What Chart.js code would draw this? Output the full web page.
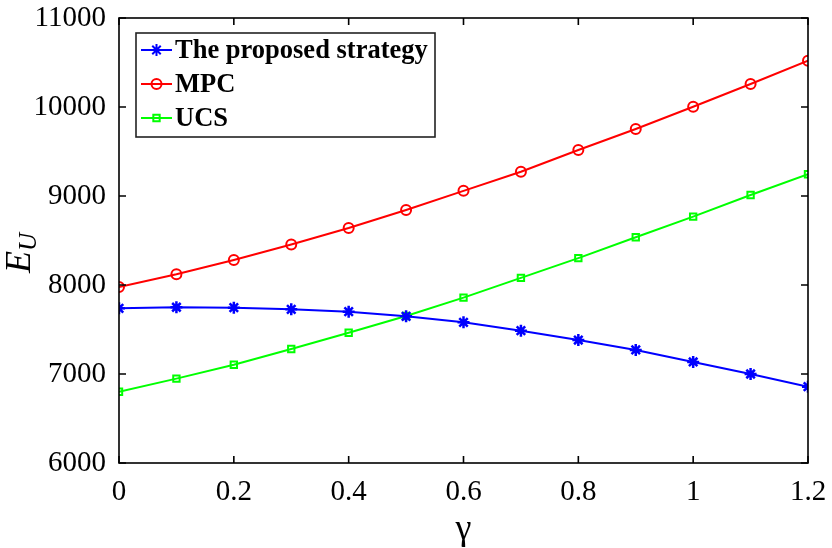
<!DOCTYPE html>
<html>
<head>
<meta charset="utf-8">
<script src="https://cdn.jsdelivr.net/npm/chart.js@4.4.0/dist/chart.umd.min.js"></script>
<style>
  html, body { margin: 0; padding: 0; background: #fff; }
  #wrap { width: 832px; height: 548px; }
</style>
</head>
<body>
<div id="wrap"><canvas id="grafica" width="832" height="548"></canvas></div>
<script>
// values
const gammaValues = [0, 0.1, 0.2, 0.3, 0.4, 0.5, 0.6, 0.7, 0.8, 0.9, 1.0, 1.1, 1.2];
const proposed = [7738, 7750, 7745, 7727, 7700, 7648, 7581, 7487, 7382, 7270, 7135, 7000, 6857];
const mpc = [7978, 8120, 8281, 8455, 8640, 8843, 9058, 9273, 9517, 9753, 10003, 10258, 10520];
const ucs = [6801, 6948, 7104, 7281, 7464, 7652, 7858, 8080, 8302, 8536, 8768, 9011, 9244];
const xTicks = [0, 0.2, 0.4, 0.6, 0.8, 1, 1.2];
const yTicks = [6000, 7000, 8000, 9000, 10000, 11000];
const seriesNames = ['The proposed strategy', 'MPC', 'UCS'];

const serif = '"Liberation Serif", "Times New Roman", serif';

const toPoints = (vals) => gammaValues.map((g, i) => ({x: g, y: vals[i]}));

// frame, inward ticks, axis titles and legend box (MATLAB look)
const marcoPlugin = {
    id: 'marco',
    afterDraw(chart) {
        const ctx = chart.ctx;
        const a = chart.chartArea;
        const sx = chart.scales.x;
        const sy = chart.scales.y;
        const tl = 7;
        ctx.save();
        ctx.strokeStyle = '#000';
        ctx.lineWidth = 1.6;
        ctx.strokeRect(a.left, a.top, a.right - a.left, a.bottom - a.top);
        ctx.beginPath();
        xTicks.forEach(v => {
            const px = sx.getPixelForValue(v);
            ctx.moveTo(px, a.bottom); ctx.lineTo(px, a.bottom - tl);
            ctx.moveTo(px, a.top); ctx.lineTo(px, a.top + tl);
        });
        yTicks.forEach(v => {
            const py = sy.getPixelForValue(v);
            ctx.moveTo(a.left, py); ctx.lineTo(a.left + tl, py);
            ctx.moveTo(a.right, py); ctx.lineTo(a.right - tl, py);
        });
        ctx.stroke();

        // axis titles
        ctx.fillStyle = '#000';
        ctx.textAlign = 'center';
        ctx.textBaseline = 'middle';
        ctx.font = '36px ' + serif;
        ctx.fillText('\u03b3', (a.left + a.right) / 2, 530);

        ctx.save();
        ctx.translate(18, 245);
        ctx.rotate(-Math.PI / 2);
        ctx.textAlign = 'left';
        ctx.textBaseline = 'alphabetic';
        ctx.font = 'italic 36px ' + serif;
        const wE = ctx.measureText('E').width;
        ctx.fillText('E', -28, 12);
        ctx.font = 'italic 25px ' + serif;
        ctx.fillText('U', -28 + wE, 18);
        ctx.restore();

        // legend
        const box = {x: 136, y: 33, w: 299, h: 104};
        ctx.fillStyle = '#fff';
        ctx.fillRect(box.x, box.y, box.w, box.h);
        ctx.lineWidth = 1.6;
        ctx.strokeStyle = '#222';
        ctx.strokeRect(box.x, box.y, box.w, box.h);
        const rows = [50, 84, 118];
        chart.data.datasets.forEach((ds, i) => {
            const y = rows[i];
            ctx.strokeStyle = ds.borderColor;
            ctx.lineWidth = 2;
            ctx.beginPath();
            ctx.moveTo(141, y); ctx.lineTo(172, y);
            ctx.stroke();
            ctx.fillStyle = 'rgba(0,0,0,0)';
            Chart.helpers.drawPoint(ctx, {
                pointStyle: ds.pointStyle,
                radius: ds.pointRadius,
                borderWidth: ds.pointBorderWidth,
                rotation: 0
            }, 156.5, y);
            ctx.fillStyle = '#000';
            ctx.textAlign = 'left';
            ctx.textBaseline = 'middle';
            ctx.font = 'bold 26.5px ' + serif;
            ctx.fillText(ds.label, 175, y + 1);
        });
        ctx.restore();
    }
};

const serie = (label, vals, color, style, r, bw) => ({
    label: label,
    data: toPoints(vals),
    borderColor: color,
    backgroundColor: 'rgba(0,0,0,0)',
    borderWidth: 2,
    pointStyle: style,
    pointRadius: r,
    pointBorderWidth: bw,
    pointBorderColor: color,
    pointBackgroundColor: 'rgba(0,0,0,0)',
    tension: 0
});

const sinPadding = (s) => {
    s.paddingTop = 0; s.paddingBottom = 0;
    s.paddingLeft = 0; s.paddingRight = 0;
};

new Chart(document.getElementById('grafica'), {
    type: 'line',
    data: {
        datasets: [
            serie(seriesNames[0], proposed, '#0000ff', 'star', 6, 2.5),
            serie(seriesNames[1], mpc, '#ff0000', 'circle', 5, 2),
            serie(seriesNames[2], ucs, '#00ff00', 'rect', 4.5, 2)
        ]
    },
    options: {
        responsive: false,
        animation: false,
        layout: {padding: {top: 18, right: 24, left: 0, bottom: 0}},
        plugins: {legend: {display: false}, tooltip: {enabled: false}},
        scales: {
            x: {
                type: 'linear',
                min: 0, max: 1.2,
                afterBuildTicks: (s) => { s.ticks = xTicks.map(v => ({value: v})); },
                afterFit: (s) => { s.height = 85; sinPadding(s); },
                grid: {display: false, drawTicks: false},
                border: {display: false},
                ticks: {
                    padding: 12,
                    color: '#000',
                    font: {family: serif, size: 29},
                    callback: (v) => String(v)
                }
            },
            y: {
                min: 6000, max: 11000,
                afterBuildTicks: (s) => { s.ticks = yTicks.map(v => ({value: v})); },
                afterFit: (s) => { s.width = 119; sinPadding(s); },
                grid: {display: false, drawTicks: false},
                border: {display: false},
                ticks: {
                    padding: 13,
                    color: '#000',
                    font: {family: serif, size: 29},
                    callback: (v) => String(v)
                }
            }
        }
    },
    plugins: [marcoPlugin]
});
</script>
</body>
</html>
